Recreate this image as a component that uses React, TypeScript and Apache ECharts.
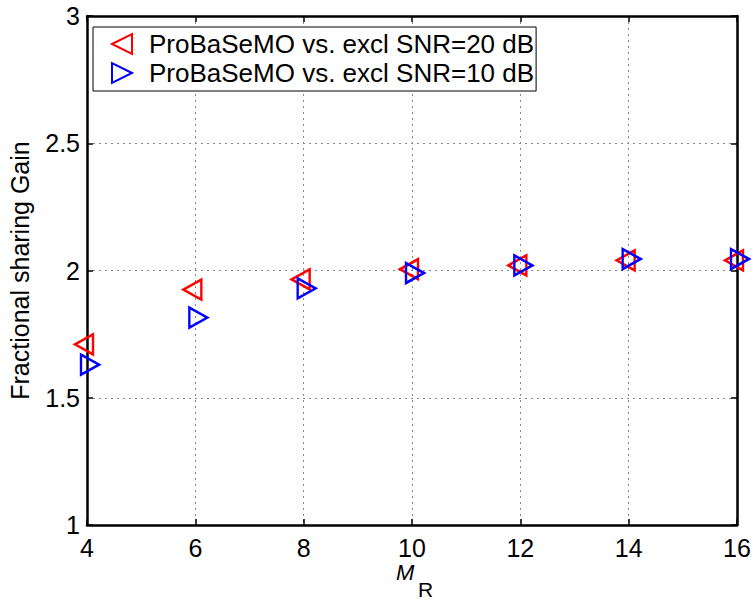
import React, { useEffect, useRef } from 'react';
import * as echarts from 'echarts';

const mR = [4, 6, 8, 10, 12, 14, 16];
const gainSnr20 = [1.71, 1.925, 1.965, 2.005, 2.02, 2.04, 2.04];
const gainSnr10 = [1.63, 1.815, 1.93, 1.99, 2.02, 2.045, 2.045];
const seriesNames = ['ProBaSeMO vs. excl SNR=20 dB', 'ProBaSeMO vs. excl SNR=10 dB'];
const yAxisTitle = 'Fractional sharing Gain';
const xAxisTitleMain = 'M';
const xAxisTitleSub = 'R';

const FONT = '"Liberation Sans", Arial, Helvetica, sans-serif';
const LEFT_TRI = 'path://M0,5 L10,0 L10,10 Z';
const RIGHT_TRI = 'path://M10,5 L0,0 L0,10 Z';

export default function App() {
  const ref = useRef<HTMLDivElement>(null);
  useEffect(() => {
    document.body.style.margin = '0';
    const chart = echarts.init(ref.current!, null, { renderer: 'svg' });
    const axisLine = { show: true, lineStyle: { color: '#000', width: 2.5 } };
    const tick = { show: true, inside: true, length: 6, lineStyle: { color: '#000', width: 1.5 } };
    chart.setOption({
      animation: false,
      backgroundColor: '#fff',
      textStyle: { fontFamily: FONT },
      grid: { left: 87, right: 18, top: 16, bottom: 76, containLabel: false, outerBoundsMode: 'none' },
      legend: {
        left: 93,
        top: 27,
        orient: 'vertical',
        backgroundColor: '#fff',
        borderColor: '#000',
        borderWidth: 1,
        borderRadius: 0,
        padding: [4, 2, 5, 18],
        itemGap: 3,
        itemWidth: 44,
        itemHeight: 20,
        textStyle: { fontSize: 26, color: '#000', fontFamily: FONT },
        data: [
          { name: seriesNames[0], icon: LEFT_TRI },
          { name: seriesNames[1], icon: RIGHT_TRI },
        ],
      },
      graphic: [
        {
          type: 'text',
          left: 396,
          top: 561,
          style: { text: xAxisTitleMain, fontSize: 22, lineHeight: 16, fontStyle: 'italic', fontFamily: FONT, fill: '#000' },
        },
        {
          type: 'text',
          left: 418,
          top: 579,
          style: { text: xAxisTitleSub, fontSize: 21, lineHeight: 16, fontFamily: FONT, fill: '#000' },
        },
      ],
      xAxis: [
        {
          type: 'value',
          min: 4,
          max: 16,
          interval: 2,
          position: 'bottom',
          axisLine,
          axisTick: tick,
          axisLabel: { fontSize: 25, color: '#000', margin: 10, fontFamily: FONT },
          splitLine: { show: true, lineStyle: { color: '#888', type: [2, 4], width: 1 } },
        },
        {
          type: 'value',
          min: 4,
          max: 16,
          interval: 2,
          position: 'top',
          axisLine,
          axisTick: tick,
          axisLabel: { show: false },
          splitLine: { show: false },
        },
      ],
      yAxis: [
        {
          type: 'value',
          min: 1,
          max: 3,
          interval: 0.5,
          position: 'left',
          axisLine,
          axisTick: tick,
          axisLabel: { fontSize: 25, color: '#000', margin: 7, fontFamily: FONT },
          splitLine: { show: true, lineStyle: { color: '#888', type: [2, 4], width: 1 } },
          name: yAxisTitle,
          nameLocation: 'middle',
          nameRotate: 90,
          nameGap: 55,
          nameTextStyle: { fontSize: 25, color: '#000', fontFamily: FONT },
        },
        {
          type: 'value',
          min: 1,
          max: 3,
          interval: 0.5,
          position: 'right',
          axisLine,
          axisTick: tick,
          axisLabel: { show: false },
          splitLine: { show: false },
        },
      ],
      series: [
        {
          name: seriesNames[0],
          type: 'scatter',
          symbol: LEFT_TRI,
          symbolSize: [18, 20],
          symbolKeepAspect: false,
          symbolOffset: [-3, 0],
          itemStyle: { color: 'rgba(255,255,255,0)', borderColor: '#ff0000', borderWidth: 2.5, opacity: 1 },
          data: mR.map((x, i) => [x, gainSnr20[i]]),
        },
        {
          name: seriesNames[1],
          type: 'scatter',
          symbol: RIGHT_TRI,
          symbolSize: [18, 20],
          symbolKeepAspect: false,
          symbolOffset: [3, 0],
          itemStyle: { color: 'rgba(255,255,255,0)', borderColor: '#0000ff', borderWidth: 2.5, opacity: 1 },
          data: mR.map((x, i) => [x, gainSnr10[i]]),
        },
      ],
    });
    return () => chart.dispose();
  }, []);
  return <div ref={ref} style={{ width: 755, height: 601 }} />;
}
